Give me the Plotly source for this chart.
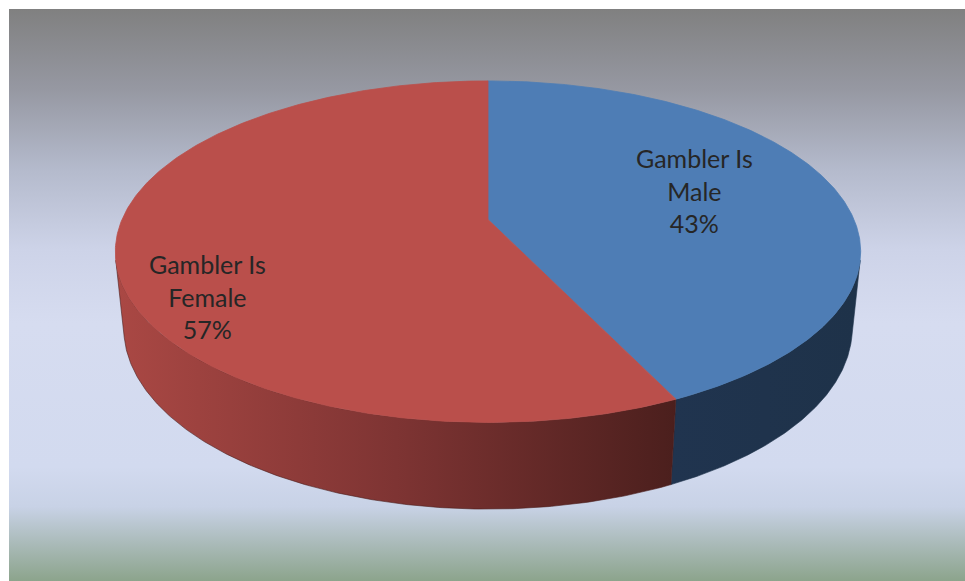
import numpy as np
import plotly.graph_objects as go

# ---- data -------------------------------------------------------------
categories = ["Gambler Is Male", "Gambler Is Female"]
shares = [43, 57]

# ---- styling ------------------------------------------------------------
W, H = 965, 581
top_colors = ["#4E7DB5", "#BA4F4B"]
wall_scales = [
    [[0, "#20344F"], [1, "#1E3249"]],
    [[0, "#AA4844"], [0.5, "#7E3433"], [1, "#4B1F1D"]],
]
label_pos = [(694, 190), (207, 296)]  # screen px (x, y) of the label centres
text_color = "#262626"

# simple perspective camera looking down on a unit disc
PHI = np.arcsin(0.45)
DIST = 4.74
FOCAL = 366.0 * DIST
CX, CY = 488.0, 219.5
THICK = 0.235


def project(X, Y, Z):
    s, c = np.sin(PHI), np.cos(PHI)
    vx = np.asarray(X, float)
    vy = np.asarray(Y, float) - DIST * s
    vz = np.asarray(Z, float) - DIST * c
    depth = -s * vy - c * vz
    xc = vx
    yc = c * vy - s * vz
    sx = CX + FOCAL * xc / depth
    sy = CY - FOCAL * yc / depth
    return sx, H - sy


def rim(theta, y):
    return project(np.sin(theta), np.full_like(theta, y), -np.cos(theta))


fig = go.Figure()

# background panel with vertical gradient
bg_top = H - 9
fig.add_trace(go.Scatter(
    x=[9, W, W, 9, 9], y=[0, 0, bg_top, bg_top, 0],
    mode="lines", fill="toself", line=dict(width=0),
    fillgradient=dict(
        type="vertical", start=0, stop=bg_top,
        colorscale=[
            [0.0, "rgb(140,164,140)"],
            [0.07, "rgb(172,188,188)"],
            [0.13, "rgb(200,210,230)"],
            [0.20, "rgb(210,218,239)"],
            [0.45, "rgb(214,220,240)"],
            [0.58, "rgb(205,211,232)"],
            [0.72, "rgb(180,186,204)"],
            [0.86, "rgb(150,152,162)"],
            [1.0, "rgb(128,128,128)"],
        ],
    ),
    hoverinfo="skip", showlegend=False,
))

# slice angle ranges, clockwise from 12 o'clock
total = float(sum(shares))
bounds = np.concatenate([[0.0], np.cumsum(shares) / total * 2 * np.pi])

# the side wall is visible where it faces the camera
lim = np.arccos(-1.0 / (DIST * np.cos(PHI)))
vis_lo, vis_hi = lim, 2 * np.pi - lim

# side walls
for i in range(len(shares)):
    a = max(bounds[i], vis_lo)
    b = min(bounds[i + 1], vis_hi)
    if b <= a:
        continue
    th = np.linspace(a, b, 200)
    tx, ty = rim(th, 0.0)
    bx, by = rim(th[::-1], -THICK)
    xs = np.concatenate([tx, bx, tx[:1]])
    ys = np.concatenate([ty, by, ty[:1]])
    fig.add_trace(go.Scatter(
        x=xs, y=ys, mode="lines", fill="toself",
        line=dict(width=0.6, color=wall_scales[i][-1][1]),
        fillgradient=dict(type="horizontal", start=float(xs.min()),
                          stop=float(xs.max()), colorscale=wall_scales[i]),
        hoverinfo="skip", showlegend=False,
    ))

# top faces
for i in range(len(shares)):
    th = np.linspace(bounds[i], bounds[i + 1], 300)
    ax, ay = rim(th, 0.0)
    cx0, cy0 = project(0.0, 0.0, 0.0)
    xs = np.concatenate([[cx0], ax, [cx0]])
    ys = np.concatenate([[cy0], ay, [cy0]])
    fig.add_trace(go.Scatter(
        x=xs, y=ys, mode="lines", fill="toself",
        fillcolor=top_colors[i], line=dict(width=0.8, color=top_colors[i]),
        hoverinfo="skip", showlegend=False,
    ))

# data labels
for i, (cat, v) in enumerate(zip(categories, shares)):
    head, tail = cat.rsplit(" ", 1)
    px, py = label_pos[i]
    fig.add_annotation(
        x=px, y=H - py, xref="x", yref="y",
        text=f"{head}<br>{tail}<br>{v}%", showarrow=False,
        font=dict(family="Lato", size=25, color=text_color),
        align="center",
    )

fig.update_layout(
    width=W, height=H,
    margin=dict(l=0, r=0, t=0, b=0),
    paper_bgcolor="white", plot_bgcolor="white",
    xaxis=dict(range=[0, W], visible=False, fixedrange=True),
    yaxis=dict(range=[0, H], visible=False, fixedrange=True),
    showlegend=False,
)

fig.write_html("out.html")
